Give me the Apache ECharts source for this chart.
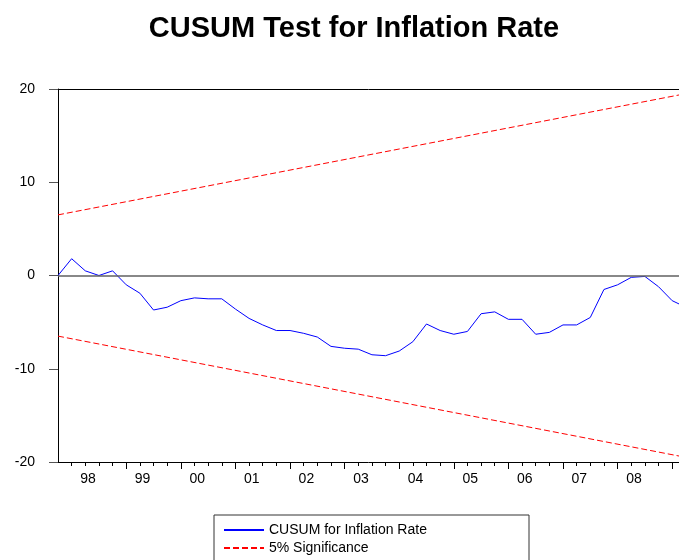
<!DOCTYPE html>
<html>
<head>
<meta charset="utf-8">
<script src="https://cdn.jsdelivr.net/npm/echarts@6/dist/echarts.min.js"></script>
<style>
  html, body { margin: 0; padding: 0; background: #fff; }
  #chart { width: 679px; height: 560px; }
</style>
</head>
<body>
<div id="chart"></div>
<script>
// quarterly index, 0 = 1997Q4
const cusum = [
  0, 1.8, 0.5, 0.0, 0.5, -1.0, -1.9, -3.7, -3.4, -2.7,
  -2.4, -2.5, -2.5, -3.6, -4.6, -5.3, -5.9, -5.9, -6.2, -6.6,
  -7.6, -7.8, -7.9, -8.5, -8.6, -8.1, -7.1, -5.2, -5.9, -6.3,
  -6.0, -4.1, -3.9, -4.7, -4.7, -6.3, -6.1, -5.3, -5.3, -4.5,
  -1.5, -1.0, -0.2, -0.1, -1.2, -2.7, -3.4
];
const upperBound = [[0, 6.5], [46, 19.5]];
const lowerBound = [[0, -6.5], [46, -19.5]];
const yearLabels = ['98', '99', '00', '01', '02', '03', '04', '05', '06', '07', '08'];
const yearLabelPos = [2.2, 6.2, 10.2, 14.2, 18.2, 22.2, 26.2, 30.2, 34.2, 38.2, 42.2];
const yearTicks = [5, 9, 13, 17, 21, 25, 29, 33, 37, 41, 45];
const quarterTicks = [];
for (let i = 1; i <= 45; i++) quarterTicks.push(i);

const font = 'Liberation Sans, Arial, sans-serif';
const xMax = 45.5; // plot is cut off at the right edge
const chart = echarts.init(document.getElementById('chart'));

const legendBase = {
  orient: 'vertical',
  left: 214,
  itemWidth: 40,
  itemHeight: 10,
  itemStyle: { opacity: 0 },
  textStyle: { fontFamily: font, fontSize: 14, color: '#000', lineHeight: 14, width: 246 }
};

const option = {
  backgroundColor: '#fff',
  animation: false,
  title: {
    text: 'CUSUM Test for Inflation Rate',
    left: 349,
    top: 9,
    textAlign: 'center',
    textStyle: { fontFamily: font, fontSize: 29, fontWeight: 'bold', color: '#000' }
  },
  legend: [
    Object.assign({}, legendBase, {
      top: 515,
      padding: [8, 14, 26, 9],
      borderColor: '#333',
      borderWidth: 1,
      data: ['CUSUM for Inflation Rate']
    }),
    Object.assign({}, legendBase, {
      top: 541,
      padding: [0, 14, 0, 9],
      data: ['5% Significance']
    })
  ],
  grid: {
    left: 58,
    top: 89,
    bottom: 98,
    right: 0
  },
  xAxis: [
    {
      type: 'value',
      min: 0,
      max: xMax,
      position: 'bottom',
      axisLine: { onZero: false, lineStyle: { color: '#000', width: 1 } },
      axisTick: { customValues: quarterTicks, length: 4, lineStyle: { color: '#000' } },
      axisLabel: {
        customValues: yearLabelPos,
        margin: 10,
        fontFamily: font,
        fontSize: 14,
        color: '#000',
        formatter: function (v) {
          return yearLabels[Math.round((v - 2.2) / 4)] || '';
        }
      },
      splitLine: { show: false }
    },
    {
      type: 'value',
      min: 0,
      max: xMax,
      position: 'bottom',
      axisLine: { show: false, onZero: false },
      axisTick: { customValues: yearTicks, length: 7, lineStyle: { color: '#000' } },
      axisLabel: { show: false },
      splitLine: { show: false }
    },
    {
      type: 'value',
      min: 0,
      max: xMax,
      position: 'top',
      axisLine: { onZero: false, lineStyle: { color: '#000', width: 1 } },
      axisTick: { show: false },
      axisLabel: { show: false },
      splitLine: { show: false }
    }
  ],
  yAxis: {
    type: 'value',
    min: -20,
    max: 20,
    interval: 10,
    axisLine: { show: true, onZero: false, lineStyle: { color: '#000', width: 1 } },
    axisTick: { show: true, length: 9, lineStyle: { color: '#555' } },
    axisLabel: { margin: 23, fontFamily: font, fontSize: 14, color: '#000' },
    splitLine: { show: false }
  },
  series: [
    {
      name: '5% Significance',
      type: 'line',
      symbol: 'none',
      data: upperBound,
      lineStyle: { color: '#ff0000', width: 1, type: [6, 3] },
      itemStyle: { color: '#ff0000' },
      markLine: {
        silent: true,
        symbol: ['none', 'none'],
        label: { show: false },
        lineStyle: { color: '#606060', width: 1.5, type: 'solid' },
        data: [{ yAxis: 0 }]
      }
    },
    {
      name: '5% Significance',
      type: 'line',
      symbol: 'none',
      data: lowerBound,
      lineStyle: { color: '#ff0000', width: 1, type: [6, 3] },
      itemStyle: { color: '#ff0000' }
    },
    {
      name: 'CUSUM for Inflation Rate',
      type: 'line',
      symbol: 'none',
      data: cusum.map(function (v, i) { return [i, v]; }),
      lineStyle: { color: '#0000ff', width: 1 },
      itemStyle: { color: '#0000ff' }
    }
  ]
};

chart.setOption(option);
</script>
</body>
</html>
